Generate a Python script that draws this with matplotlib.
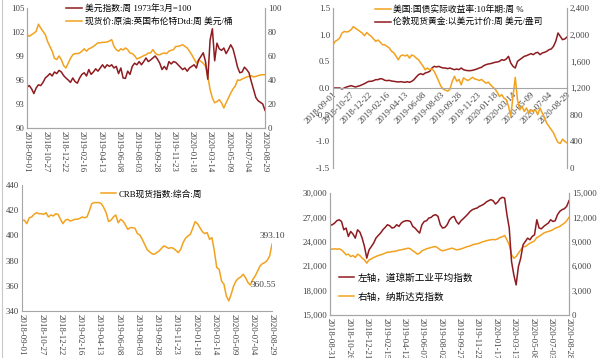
import numpy as np
import pandas as pd
import matplotlib
matplotlib.use("Agg")
import matplotlib.pyplot as plt
from matplotlib.ticker import FuncFormatter, MultipleLocator

plt.rcParams['font.family'] = ['Liberation Serif', 'Noto Sans CJK SC', 'DejaVu Sans']
plt.rcParams['axes.unicode_minus'] = False

RED = '#8E1B1F'
ORANGE = '#F2A21E'
SPINE = '#A6A6A6'
TXT = '#3F3F3F'
FS = 6.3

# weekly dates, ticks every 8 weeks
dates_a = pd.date_range('2018-09-01', periods=105, freq='7D')
dates_b = pd.date_range('2018-08-31', periods=105, freq='7D')

# panel 1: US dollar index (left) and Brent (right)
usd = [95.1, 95.3, 94.9, 94.3, 95.0, 95.4, 95.3, 95.7, 96.25, 96.5,
       96.8, 96.5, 97.0, 96.8, 97.2, 97.0, 96.55, 96.25, 96.0, 95.7,
       96.25, 95.8, 95.6, 96.25, 96.7, 96.9, 96.5, 97.3, 96.7, 97.0,
       97.4, 97.1, 97.5, 97.9, 97.5, 97.9, 97.7, 97.9, 97.5, 97.7,
       96.8, 97.5, 96.25, 96.2, 97.1, 96.7, 97.7, 98.1, 97.9, 98.3,
       97.9, 98.3, 98.75, 98.3, 98.5, 98.75, 99.0, 98.6, 98.1, 97.3,
       97.7, 97.3, 98.3, 98.0, 98.3, 98.2, 97.9, 97.6, 97.3, 97.5,
       97.1, 97.5, 97.7, 97.9, 97.5, 98.5, 98.95, 99.4, 98.3, 96.1,
       101.0, 102.4, 98.4, 100.6, 99.9, 99.7, 100.0, 99.3, 99.8, 100.4,
       99.9, 98.8, 97.6, 96.9, 97.0, 97.6, 97.3, 96.9, 95.8, 94.8,
       93.8, 93.4, 93.2, 93.0, 92.2]
brent = [77.8, 76.4, 77.8, 79.0, 80.5, 86.5, 83.3, 80.5, 77.8, 72.0,
         68.0, 64.0, 58.0, 57.0, 60.0, 57.0, 52.0, 50.0, 54.0, 58.0,
         61.0, 62.0, 62.0, 62.5, 64.0, 66.0, 64.0, 66.0, 66.7, 68.0,
         69.4, 71.0, 71.0, 71.4, 71.4, 71.7, 72.5, 73.6, 68.0, 65.3,
         64.0, 66.0, 65.0, 66.7, 65.3, 62.5, 62.0, 60.3, 57.5, 58.3,
         59.2, 60.3, 61.0, 62.5, 62.5, 65.3, 62.5, 61.0, 61.0, 62.0,
         62.5, 62.0, 64.0, 64.7, 65.3, 68.0, 68.0, 68.6, 69.4, 68.0,
         66.7, 64.0, 61.0, 57.5, 54.0, 57.0, 55.5, 54.0, 51.4, 43.0,
         32.0, 25.0, 21.0, 22.0, 23.6, 21.0, 16.7, 21.0, 25.0, 29.0,
         32.5, 35.0, 40.0, 39.7, 40.8, 41.7, 42.5, 43.0, 43.6, 42.5,
         43.0, 43.6, 44.2, 44.4, 44.4]

# panel 2: 10y real yield (left) and London gold (right)
real_yield = [0.81, 0.875, 0.9, 0.94, 1.03, 1.06, 1.05, 1.06, 1.09, 1.15,
              1.12, 1.09, 1.06, 1.03, 0.98, 1.04, 1.0, 0.97, 0.92, 0.875,
              0.9, 0.86, 0.81, 0.81, 0.78, 0.75, 0.69, 0.66, 0.6, 0.53,
              0.6, 0.62, 0.6, 0.62, 0.56, 0.62, 0.6, 0.56, 0.53, 0.47,
              0.41, 0.34, 0.375, 0.34, 0.36, 0.31, 0.22, 0.125, 0.03, -0.02,
              -0.04, -0.06, -0.02, 0.125, 0.22, 0.125, 0.16, 0.06, 0.19, 0.16,
              0.14, 0.17, 0.2, 0.17, 0.16, 0.14, 0.16, 0.125, 0.09, 0.11,
              0.06, 0.02, -0.02, -0.08, -0.16, -0.125, -0.19, -0.22, -0.34, -0.53,
              -0.16, 0.2, -0.22, -0.41, -0.34, -0.44, -0.375, -0.47, -0.41, -0.44,
              -0.41, -0.5, -0.375, -0.47, -0.56, -0.66, -0.72, -0.78, -0.84, -0.94,
              -1.02, -1.04, -0.96, -1.0, -1.03]
gold = [1200, 1200, 1200, 1200, 1185, 1200, 1215, 1225, 1235, 1225,
        1215, 1225, 1235, 1250, 1265, 1285, 1300, 1300, 1310, 1325,
        1325, 1340, 1335, 1315, 1310, 1315, 1305, 1300, 1295, 1290,
        1295, 1290, 1285, 1295, 1285, 1300, 1325, 1365, 1400, 1415,
        1400, 1425, 1435, 1450, 1500, 1525, 1515, 1525, 1510, 1500,
        1500, 1490, 1500, 1485, 1475, 1485, 1475, 1500, 1475, 1465,
        1460, 1460, 1465, 1475, 1485, 1500, 1510, 1535, 1550, 1560,
        1565, 1575, 1585, 1590, 1600, 1625, 1615, 1635, 1675, 1575,
        1525, 1500, 1600, 1625, 1650, 1675, 1685, 1700, 1715, 1700,
        1725, 1735, 1700, 1725, 1735, 1750, 1775, 1785, 1825, 1900,
        2025, 1975, 1925, 1935, 1965]

# panel 3: CRB spot index
crb = [412, 412, 409.3, 414, 414.6, 416.7, 418, 417.2, 417.2, 416.7,
       418, 414.6, 416.2, 415.4, 417.2, 416.7, 412.8, 409.3, 412, 412.8,
       411.4, 412, 412.8, 412.8, 413.5, 414.6, 414, 414.6, 419.4, 425.2,
       426, 426, 426, 425.2, 422, 418, 411, 412, 414.6, 416.2,
       410, 412.8, 411.4, 408.3, 404.8, 406.1, 406.1, 405.6, 401.4, 400.3,
       396.9, 392.9, 388.9, 387.1, 385.5, 385, 386.3, 387.6, 389.7, 391.6,
       390.8, 389.7, 390.3, 389.7, 388.1, 386.3, 388.9, 394.2, 397.7, 399.5,
       400.8, 405.6, 410.9, 409.3, 406.1, 403, 401.4, 402.2, 396.9, 398.2,
       387.6, 374.4, 373.1, 363.8, 361.2, 351.9, 348, 353.2, 359.8, 363.8,
       365.9, 367, 369.1, 366.4, 362.5, 360.55, 365.1, 367.8, 371.7, 375.7,
       377.6, 378.4, 380.2, 383.6, 393.1]
crb_mark = 95  # labelled local low

# panel 4: Dow Jones (left) and Nasdaq (right)
dji = [26013, 26100, 26300, 26600, 26710, 26500, 25480, 25690, 24660, 25270,
       24950, 24450, 25480, 25190, 24450, 23420, 21990, 23010, 23420, 23840,
       24450, 24780, 25070, 25480, 25770, 26100, 25970, 25690, 25770, 26100,
       25890, 26300, 26500, 26590, 26590, 26500, 25890, 25690, 25360, 25070,
       26100, 26500, 26590, 26920, 27000, 27250, 27330, 27120, 26100, 25690,
       25770, 26100, 26710, 27000, 27120, 26500, 26180, 26590, 26840, 27120,
       27410, 27740, 27950, 28070, 28150, 28360, 28480, 28640, 28890, 29050,
       29180, 29050, 28640, 28890, 29300, 29470, 29380, 27330, 25690, 21570,
       19930, 18700, 20960, 21990, 23630, 24040, 24450, 24250, 24660, 24860,
       26710, 25690, 25600, 25890, 26100, 26300, 26710, 26500, 26590, 27330,
       27740, 27950, 28070, 28360, 29050]
ndx = [8136, 8095, 8136, 8095, 8136, 8010, 7725, 7400, 7480, 7190,
       7310, 7070, 7480, 7310, 6985, 6780, 6370, 6780, 6900, 7070,
       7190, 7310, 7400, 7480, 7600, 7725, 7725, 7810, 7810, 7890,
       7970, 8010, 8095, 8136, 8220, 8136, 7890, 7725, 7480, 7600,
       7890, 8010, 8136, 8220, 8300, 8380, 8420, 8220, 8010, 7890,
       7970, 8050, 8136, 8220, 8136, 8010, 8050, 8136, 8220, 8340,
       8420, 8500, 8630, 8710, 8750, 8830, 8960, 9040, 9120, 9200,
       9250, 9290, 9250, 9370, 9530, 9620, 9780, 9250, 8630, 7400,
       6985, 7190, 7600, 8010, 8420, 8420, 8630, 8830, 8960, 9120,
       9530, 9660, 9860, 10070, 10190, 10270, 10360, 10480, 10680, 10770,
       10890, 11100, 11300, 11590, 12000]

comma = FuncFormatter(lambda v, p: f'{v:,.0f}')


def style(ax, right=False, bottom=True):
    ax.spines['top'].set_visible(False)
    ax.spines['right'].set_visible(right)
    ax.spines['bottom'].set_visible(bottom)
    for s in ax.spines.values():
        s.set_color(SPINE)
        s.set_linewidth(0.8)
    ax.tick_params(length=0, labelsize=FS, colors=TXT, pad=2)
    ax.set_facecolor('none')


def date_ticks(ax, dates, rot=-90):
    ticks = dates[::8]
    ax.set_xticks(ticks)
    ax.set_xticklabels([d.strftime('%Y-%m-%d') for d in ticks], rotation=rot)
    ax.set_xlim(dates[0], dates[-1])


fig = plt.figure(figsize=(6, 3.58), dpi=100)
fig.add_artist(plt.Line2D([0.004, 0.004], [0.0, 1.0], color='#C8C8C8', lw=0.8))

# ---- panel 1
ax1 = fig.add_axes([0.045, 0.6425, 0.3967, 0.3352])
ax1r = ax1.twinx()
l1, = ax1.plot(dates_a, usd, color=RED, lw=1.1, label='美元指数:周 1973年3月=100')
l2, = ax1r.plot(dates_a, brent, color=ORANGE, lw=1.1, label='现货价:原油:英国布伦特Dtd:周 美元/桶')
ax1.set_ylim(90, 105)
ax1.yaxis.set_major_locator(MultipleLocator(3))
ax1r.set_ylim(0, 100)
ax1r.yaxis.set_major_locator(MultipleLocator(20))
ax1.set_zorder(ax1r.get_zorder() + 1)
style(ax1, right=True)
style(ax1r, right=True)
date_ticks(ax1, dates_a)
ax1.legend(handles=[l1, l2], loc='upper left', bbox_to_anchor=(0.15, 1.06), frameon=False,
           fontsize=FS, handlelength=1.8, handletextpad=0.3, labelspacing=0.45, borderaxespad=0)

# ---- panel 2
ax2 = fig.add_axes([0.555, 0.5307, 0.39, 0.447])
ax2r = ax2.twinx()
l3, = ax2.plot(dates_a, real_yield, color=ORANGE, lw=1.1, label='美国:国债实际收益率:10年期:周 %')
l4, = ax2r.plot(dates_a, gold, color=RED, lw=1.1, label='伦敦现货黄金:以美元计价:周 美元/盎司')
ax2.set_ylim(-1.5, 1.5)
ax2.yaxis.set_major_locator(MultipleLocator(0.5))
ax2.yaxis.set_major_formatter(FuncFormatter(lambda v, p: f'{v:.1f}'))
ax2r.set_ylim(0, 2400)
ax2r.yaxis.set_major_locator(MultipleLocator(400))
ax2r.yaxis.set_major_formatter(comma)
ax2.set_zorder(ax2r.get_zorder() + 1)
style(ax2, right=True)
style(ax2r, right=True, bottom=False)
ax2.spines['bottom'].set_position(('data', 0))
date_ticks(ax2, dates_a, rot=45)
for t in ax2.get_xticklabels():
    t.set_ha('right')
    t.set_va('top')
    t.set_rotation_mode('anchor')
ax2.legend(handles=[l3, l4], loc='upper left', bbox_to_anchor=(0.165, 1.04), frameon=False,
           fontsize=FS, handlelength=1.8, handletextpad=0.3, labelspacing=0.45, borderaxespad=0)

# ---- panel 3
ax3 = fig.add_axes([0.0367, 0.1313, 0.4167, 0.352])
l5, = ax3.plot(dates_a, crb, color=ORANGE, lw=1.1, label='CRB现货指数:综合:周')
ax3.set_ylim(340, 440)
ax3.yaxis.set_major_locator(MultipleLocator(20))
style(ax3)
date_ticks(ax3, dates_a)
ax3.legend(handles=[l5], loc='upper left', bbox_to_anchor=(0.3, 0.99), frameon=False,
           fontsize=FS, handlelength=1.8, handletextpad=0.3, borderaxespad=0)
ax3.annotate(f'{crb[-1]:.2f}', (dates_a[-1], crb[-1]), xytext=(0, 3), textcoords='offset points',
             ha='center', va='bottom', fontsize=FS + 0.4, color=TXT)
ax3.annotate(f'{crb[crb_mark]:.2f}', (dates_a[crb_mark], crb[crb_mark]), xytext=(0, 0),
             textcoords='offset points', ha='left', va='center', fontsize=FS + 0.4, color=TXT)

# ---- panel 4
ax4 = fig.add_axes([0.55, 0.1201, 0.3983, 0.3408])
ax4r = ax4.twinx()
l6, = ax4.plot(dates_b, dji, color=RED, lw=1.1, label='左轴，道琼斯工业平均指数')
l7, = ax4r.plot(dates_b, ndx, color=ORANGE, lw=1.1, label='右轴，纳斯达克指数')
ax4.set_ylim(15000, 30000)
ax4.yaxis.set_major_locator(MultipleLocator(3000))
ax4.yaxis.set_major_formatter(comma)
ax4r.set_ylim(0, 15000)
ax4r.yaxis.set_major_locator(MultipleLocator(3000))
ax4r.yaxis.set_major_formatter(comma)
ax4.set_zorder(ax4r.get_zorder() + 1)
style(ax4, right=True)
style(ax4r, right=True)
date_ticks(ax4, dates_b)
ax4.legend(handles=[l6, l7], loc='lower left', bbox_to_anchor=(0.02, 0.08), frameon=False,
           fontsize=FS + 0.6, handlelength=1.6, handletextpad=0.4, labelspacing=1.0, borderaxespad=0)

fig.savefig('out.png', dpi=100)
